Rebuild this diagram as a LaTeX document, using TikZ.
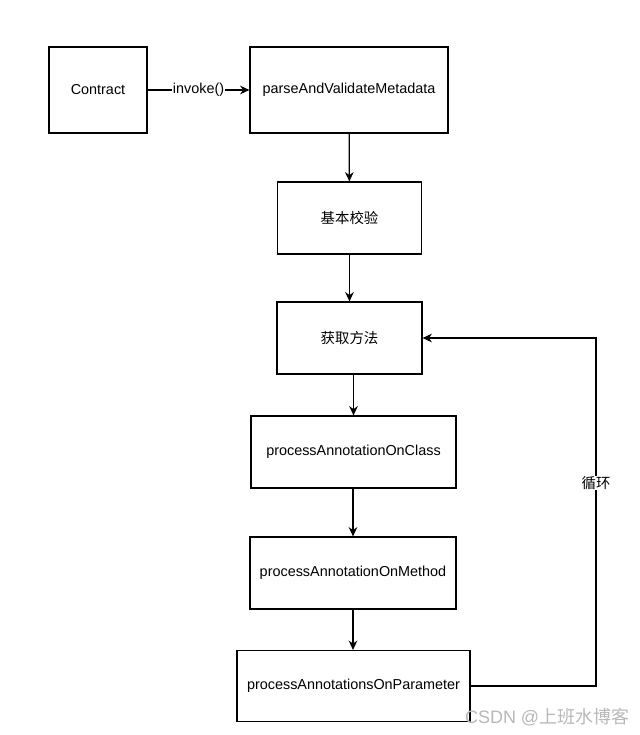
\documentclass[tikz,border=0pt]{standalone}
\usepackage{fontspec}
\setmainfont{Liberation Sans}
\newfontfamily\cjk{Noto Sans CJK SC}
\usetikzlibrary{arrows.meta}
\begin{document}
\begin{tikzpicture}[x=0.75pt,y=-0.75pt,
  box/.style={draw=black, line width=0.9pt, fill=white, inner sep=0pt, font=\fontsize{10.8}{13}\selectfont},
  conn/.style={draw=black, line width=0.9pt, -{Stealth[length=7pt,width=6.5pt]}},
  lbl/.style={fill=white, inner sep=0.5pt, font=\fontsize{10.8}{13}\selectfont}]
\useasboundingbox (0,0) rectangle (639,735);
\node[box, minimum width=98*0.75pt, minimum height=86*0.75pt] (contract) at (98,90) {Contract};
\node[box, minimum width=198*0.75pt, minimum height=86*0.75pt] (parse) at (349,90) {parseAndValidateMetadata};
\node[box, minimum width=144*0.75pt, minimum height=72*0.75pt] (check) at (349.5,218) {\cjk 基本校验};
\node[box, minimum width=145*0.75pt, minimum height=72*0.75pt] (get) at (349.5,338) {\cjk 获取方法};
\node[box, minimum width=205*0.75pt, minimum height=72*0.75pt] (cls) at (353.5,452) {processAnnotationOnClass};
\node[box, minimum width=206*0.75pt, minimum height=72*0.75pt] (meth) at (353,573) {processAnnotationOnMethod};
\node[box, minimum width=233*0.75pt, minimum height=71*0.75pt] (param) at (353.5,686) {processAnnotationsOnParameter};
\coordinate (loopA) at (596,686);
\coordinate (loopB) at (596,338);
\draw[conn] (contract) -- node[lbl] (inv) {invoke()} (parse);
\draw[conn] (parse) -- (check);
\draw[conn] (check) -- (get);
\draw[conn] (cls.north |- get.south) -- (cls.north);
\draw[conn] (cls.south -| meth.north) -- (meth.north);
\draw[conn] (meth.south) -- (meth.south |- param.north);
\draw[conn] (param.east) -- (loopA) -- node[lbl, pos=0.583] (loop) {\cjk 循环} (loopB) -- (get.east);
\node[anchor=east, text=black!28, font=\fontsize{13.5}{15}\selectfont] (wm) at (634,717) {CSDN @\cjk 上班水博客};
\end{tikzpicture}
\end{document}
